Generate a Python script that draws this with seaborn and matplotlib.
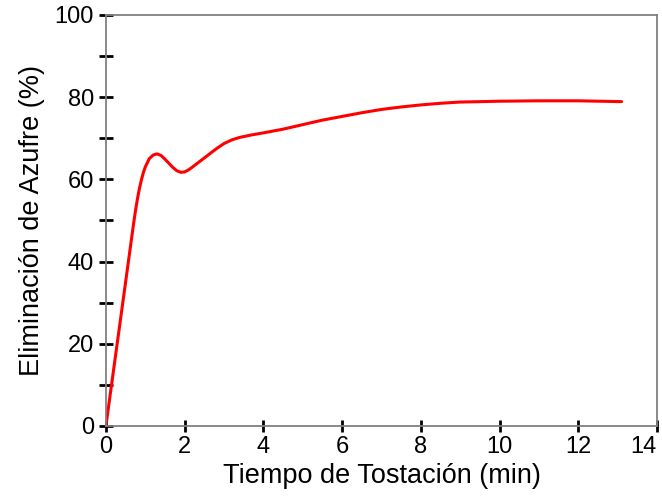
import matplotlib
matplotlib.use("Agg")
import matplotlib.pyplot as plt
import seaborn as sns
import pandas as pd
from matplotlib.ticker import MultipleLocator

# Sulfur removal versus roasting time
tiempo = [0, 0.15, 0.3, 0.45, 0.6, 0.7, 0.75, 0.8, 0.85, 0.9, 0.95, 1.0,
          1.1, 1.2, 1.3, 1.4, 1.5, 1.6, 1.7, 1.8, 1.9, 2.0, 2.1, 2.2, 2.35,
          2.5, 2.65, 2.8, 3.0, 3.2, 3.4, 3.7, 4.0, 4.5, 5.0, 5.5, 6.0, 6.5,
          7.0, 7.5, 8.0, 8.5, 9.0, 9.5, 10.0, 11.0, 12.0, 13.1]
eliminacion = [0, 10.5, 21, 31.5, 42, 49, 52.3, 55.2, 57.7, 59.8, 61.6, 63.0,
               65.0, 65.9, 66.2, 65.8, 64.9, 63.9, 62.9, 62.1, 61.7, 61.8,
               62.3, 63.0, 64.1, 65.2, 66.3, 67.4, 68.7, 69.6, 70.2, 70.8,
               71.3, 72.2, 73.3, 74.4, 75.3, 76.2, 77.0, 77.6, 78.1, 78.5,
               78.8, 78.9, 79.0, 79.1, 79.1, 78.9]

xticks = [0, 2, 4, 6, 8, 10, 12, 14]
yticks = [0, 20, 40, 60, 80, 100]

df = pd.DataFrame({"t": tiempo, "e": eliminacion})

sns.set_theme(style="white")
plt.rcParams["font.family"] = ["Liberation Sans", "DejaVu Sans"]
plt.rcParams["text.color"] = "black"
plt.rcParams["axes.labelcolor"] = "black"

fig = plt.figure(figsize=(6.62, 4.97), dpi=100)
ax = fig.add_axes([0.160, 0.143, 0.8324, 0.827])

sns.lineplot(data=df, x="t", y="e", ax=ax, color="#ff0000", linewidth=2.2,
             sort=False)

ax.set_xlim(0, 14)
ax.set_ylim(0, 100)
ax.set_xticks(xticks)
ax.set_yticks(yticks)
ax.yaxis.set_minor_locator(MultipleLocator(10))

for side, sp in ax.spines.items():
    sp.set_color("#808080")
    sp.set_linewidth(1.3)

ax.tick_params(axis="both", which="both", direction="inout", color="black",
               width=2.0, labelsize=17, labelcolor="black",
               bottom=True, left=True, top=False, right=False)
ax.tick_params(axis="y", which="both", length=9.5, pad=4)
ax.tick_params(axis="x", which="major", length=8, pad=3)

# keep the last x label inside the figure edge
ax.get_xticklabels()[-1].set_horizontalalignment("right")

ax.set_xlabel("Tiempo de Tostación (min)", fontsize=19.5, labelpad=4)
ax.set_ylabel("Eliminación de Azufre (%)", fontsize=19.5, labelpad=7)

fig.savefig("out.png", dpi=100)
